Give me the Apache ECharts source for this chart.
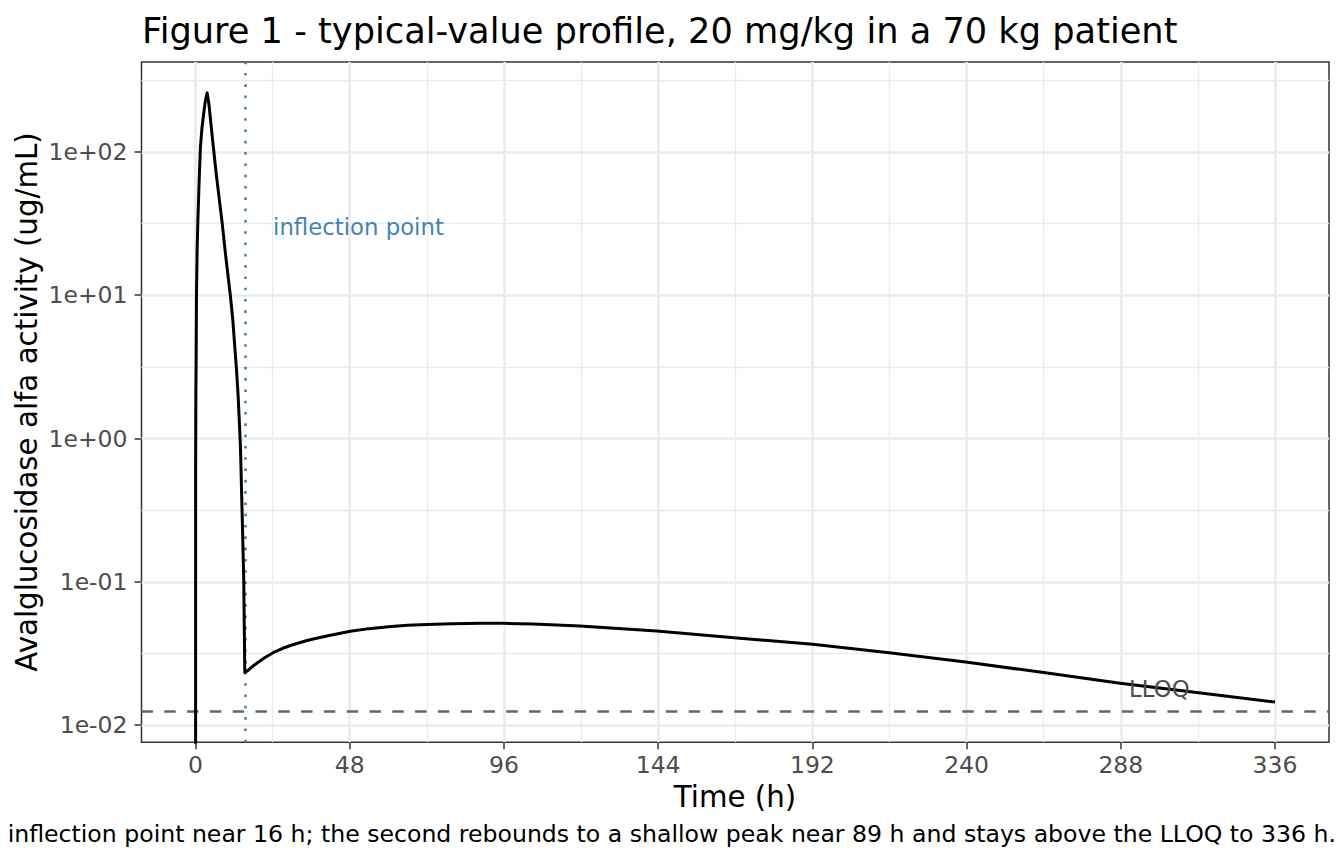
<!DOCTYPE html>
<html><head><meta charset="utf-8">
<script src="https://cdn.jsdelivr.net/npm/echarts@6/dist/echarts.min.js"></script>
<style>html,body{margin:0;padding:0;background:#fff}#c{width:1344px;height:864px}</style>
</head><body><div id="c"></div>
<script>
// ---- data ----
const timeH = [0, 0.05, 0.12, 0.2, 0.31, 0.5, 0.72, 0.95, 1.15, 1.55, 2.0, 2.58, 3.1, 3.64,
  4.2, 4.8, 5.4, 6.5, 7.4, 8.3, 9.54, 10.88, 11.6, 12.22, 12.8, 13.28, 13.99, 14.52, 15.02, 15.23, 15.35,
  16.5, 18, 19.2, 21.5, 24.3, 27, 30, 34.7, 38, 42, 48.2, 54, 60, 66, 72, 80, 89, 96, 105, 119.7, 143.5, 169.4, 192.1, 215.9, 239.7, 264, 287.8, 311.6, 336];
const activity = [0, 0.6, 2.0, 3.4, 9.8, 20, 32, 46, 64, 109, 145, 187, 229, 258,
  214, 158, 117, 69, 47, 32, 17.7, 9.84, 6.8, 4.41, 2.95, 1.98, 0.885, 0.304, 0.104, 0.0397, 0.0233,
  0.0243, 0.0260, 0.0272, 0.0296, 0.0322, 0.0343, 0.0363, 0.0390, 0.0406, 0.0424, 0.0452, 0.0472, 0.0487, 0.0498, 0.0505, 0.0511, 0.0515, 0.0514, 0.0509, 0.0492, 0.0454, 0.0405, 0.0367, 0.0321, 0.0276, 0.0233, 0.0196, 0.0169, 0.0145];
const xTicks = [0, 48, 96, 144, 192, 240, 288, 336];
const xMinor = [24, 72, 120, 168, 216, 264, 312];
const yTickValues = [0.01, 0.1, 1, 10, 100];
const yTickLabels = ['1e-02', '1e-01', '1e+00', '1e+01', '1e+02'];
const yMinorValues = [0.0316228, 0.316228, 3.16228, 31.6228, 316.228];
const inflectionH = 15.6;
const lloq = 0.0125;
const inflectionLabel = {t: 24, v: 30, text: 'inflection point'};
const lloqLabel = {t: 300, v: 0.0178, text: 'LLOQ'};
const titleText = 'Figure 1 - typical-value profile, 20 mg/kg in a 70 kg patient';
const xTitle = 'Time (h)';
const yTitle = 'Avalglucosidase alfa activity (ug/mL)';
const captionText = 'inflection point near 16 h; the second rebounds to a shallow peak near 89 h and stays above the LLOQ to 336 h.';

// ---- chart ----
const L = v => v > 0 ? Math.log10(v) : -9;
const FONT = '"DejaVu Sans", sans-serif';
const yMinLog = -2.119, yMaxLog = 2.627;
const chart = echarts.init(document.getElementById('c'), null, {renderer: 'svg', width: 1344, height: 864});
const yTickLogs = yTickValues.map(L);
const option = {
  animation: false,
  grid: {left: 141.5, right: 15, top: 62, bottom: 121.7, show: true, borderColor: '#333333', borderWidth: 1.5, backgroundColor: 'transparent', containLabel: false},
  xAxis: [
    {type: 'value', min: -16.8, max: 352.8, position: 'bottom',
     axisLine: {show: false, onZero: false},
     axisTick: {show: true, customValues: xTicks, length: 7, lineStyle: {color: '#333333', width: 1.5}},
     axisLabel: {show: true, customValues: xTicks, color: '#4D4D4D', fontSize: 23.5, fontFamily: FONT, margin: 11},
     splitLine: {show: true, lineStyle: {color: '#EBEBEB', width: 2.6}}},
    {type: 'value', min: -16.8, max: 352.8, position: 'bottom',
     axisLine: {show: false, onZero: false},
     axisTick: {show: false, customValues: xMinor},
     axisLabel: {show: false, customValues: xMinor},
     splitLine: {show: true, lineStyle: {color: '#EBEBEB', width: 1.3}}}
  ],
  yAxis: [
    {type: 'value', min: yMinLog, max: yMaxLog, position: 'left',
     axisLine: {show: false, onZero: false},
     axisTick: {show: true, customValues: yTickLogs, length: 7, lineStyle: {color: '#333333', width: 1.5}},
     axisLabel: {show: true, customValues: yTickLogs, color: '#4D4D4D', fontSize: 23.5, fontFamily: FONT, margin: 14,
       formatter: v => { const i = yTickLogs.findIndex(t => Math.abs(t - v) < 1e-6); return i >= 0 ? yTickLabels[i] : ''; }},
     splitLine: {show: true, lineStyle: {color: '#EBEBEB', width: 2.6}}},
    {type: 'value', min: yMinLog, max: yMaxLog, position: 'left',
     axisLine: {show: false, onZero: false},
     axisTick: {show: false, customValues: yMinorValues.map(L)},
     axisLabel: {show: false, customValues: yMinorValues.map(L)},
     splitLine: {show: true, lineStyle: {color: '#EBEBEB', width: 1.3}}}
  ],
  series: [
    {type: 'line', xAxisIndex: 0, yAxisIndex: 0, showSymbol: false, symbol: 'none', clip: true, z: 5,
     lineStyle: {color: '#000000', width: 3, join: 'round'},
     data: timeH.map((t, i) => [t, L(activity[i])]),
     markLine: {silent: true, symbol: ['none', 'none'], label: {show: false}, animation: false,
       data: [
         {xAxis: inflectionH, lineStyle: {color: '#4682B4', width: 2.6, type: [2.6, 8.7], cap: 'butt'}},
         {yAxis: L(lloq), lineStyle: {color: '#666666', width: 2.6, type: [11.4, 11.4], cap: 'butt'}}
       ]}},
    {type: 'scatter', xAxisIndex: 0, yAxisIndex: 0, symbolSize: 1, itemStyle: {color: 'rgba(0,0,0,0)', opacity: 1}, silent: true, z: 6,
     data: [[inflectionLabel.t, L(inflectionLabel.v)]],
     label: {show: true, position: 'right', distance: 0, formatter: inflectionLabel.text, color: '#4682B4', opacity: 1, fontSize: 22.8, fontFamily: FONT}},
    {type: 'scatter', xAxisIndex: 0, yAxisIndex: 0, symbolSize: 1, itemStyle: {color: 'rgba(0,0,0,0)', opacity: 1}, silent: true, z: 6,
     data: [[lloqLabel.t, L(lloqLabel.v)]],
     label: {show: true, position: 'inside', formatter: lloqLabel.text, color: '#4D4D4D', opacity: 1, fontSize: 22.8, fontFamily: FONT}}
  ],
  graphic: [
    {type: 'text', x: 142, y: 30, style: {text: titleText, fontSize: 35.2, fontFamily: FONT, fill: '#000', align: 'left', verticalAlign: 'middle'}},
    {type: 'text', x: 735, y: 797, style: {text: xTitle, fontSize: 29.3, fontFamily: FONT, fill: '#000', align: 'center', verticalAlign: 'middle'}},
    {type: 'text', x: 27, y: 402, rotation: Math.PI / 2, style: {text: yTitle, fontSize: 29.3, fontFamily: FONT, fill: '#000', align: 'center', verticalAlign: 'middle'}},
    {type: 'text', x: 1336, y: 834, style: {text: captionText, fontSize: 23.6, fontFamily: FONT, fill: '#000', align: 'right', verticalAlign: 'middle'}}
  ]
};
chart.setOption(option);
</script></body></html>
